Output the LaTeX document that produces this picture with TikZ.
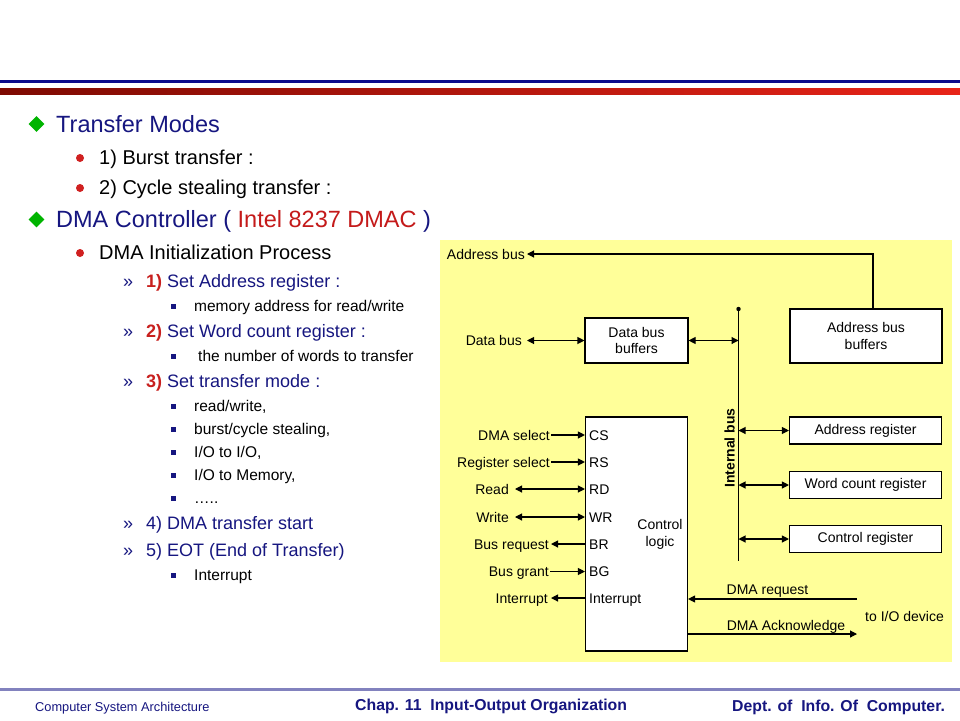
\documentclass[tikz,border=0pt]{standalone}
\usepackage{fontspec}
\setmainfont{Liberation Sans}
\usetikzlibrary{arrows.meta,shapes.geometric}
\definecolor{navy}{HTML}{161680}
\definecolor{bred}{HTML}{C8201E}
\definecolor{ired}{HTML}{C41A1A}
\definecolor{dgreen}{HTML}{00B400}
\definecolor{dotred}{HTML}{D02020}
\definecolor{panel}{HTML}{FFFF99}
\definecolor{topblue}{HTML}{0B0B8C}
\definecolor{darkred}{HTML}{7E0A02}
\definecolor{brightred}{HTML}{E82418}
\definecolor{footline}{HTML}{8282BE}
\newcommand\szA{\fontsize{23.5}{28}\selectfont}
\newcommand\szB{\fontsize{20}{24}\selectfont}
\newcommand\szC{\fontsize{18}{21}\selectfont}
\newcommand\szE{\fontsize{15.5}{18}\selectfont}
\newcommand\szD{\fontsize{14}{16.5}\selectfont}
\newcommand\szF{\fontsize{12.8}{15}\selectfont}
\newcommand\szG{\fontsize{15.8}{18}\selectfont}
\begin{document}
\begin{tikzpicture}[x=1pt,y=-1pt,
  lvlA/.style={anchor=base west, inner sep=0pt, font=\szA, text=navy},
  lvlB/.style={anchor=base west, inner sep=0pt, font=\szB, text=black},
  lvlC/.style={anchor=base west, inner sep=0pt, font=\szC, text=navy},
  lvlD/.style={anchor=base west, inner sep=0pt, font=\szE, text=black},
  bulA/.style={diamond, fill=dgreen, minimum size=16pt, inner sep=0pt},
  bulB/.style={circle, fill=dotred, minimum size=8pt, inner sep=0pt},
  bulD/.style={rectangle, fill=navy, minimum size=5pt, inner sep=0pt},
  raq/.style={anchor=base west, inner sep=0pt, font=\szC, text=navy},
  sig/.style={line width=1.1pt, -{Triangle[length=7pt,width=7pt]}},
  bisig/.style={line width=1.1pt, {Triangle[length=7pt,width=7pt]}-{Triangle[length=7pt,width=7pt]}},
  wire/.style={line width=1.1pt},
  box/.style={draw=black, line width=1.1pt, fill=white, inner sep=0pt, align=center, font=\szD},
  lab/.style={inner sep=0pt, text height=10pt, text depth=0pt, font=\szD},
  foot/.style={anchor=base west, inner sep=0pt, text=navy}
]
\useasboundingbox (0,0) rectangle (960,720);
\fill[white] (0,0) rectangle (960,720);
% header bars
\fill[topblue] (0,80) rectangle (960,83);
\shade[left color=darkred, right color=brightred] (0,88) rectangle (960,94.5);
% footer line
\fill[footline] (0,688) rectangle (960,691);

% ---------- left text ----------
\node[bulA] (d1) at (36.5,124) {};
\node[lvlA] (t1) at (56,132) {Transfer Modes};
\node[bulB] (r1) at (80,158) {};
\node[lvlB] (t2) at (99,164) {1) Burst transfer :};
\node[bulB] (r2) at (80,188) {};
\node[lvlB] (t3) at (99,194) {2) Cycle stealing transfer :};
\node[bulA] (d2) at (36.5,219.5) {};
\node[lvlA] (t4) at (56,227.5) {DMA Controller ( {\color{ired}Intel 8237 DMAC} )};
\node[bulB] (r3) at (80,253) {};
\node[lvlB] (t5) at (99,259) {DMA Initialization Process};

\node[raq] (q1) at (123,287) {»};
\node[lvlC] (t6) at (146,287) {\textcolor{bred}{\bfseries 1)} Set Address register :};
\node[bulD] (s1) at (173.5,306.5) {};
\node[lvlD] (t7) at (194,311) {memory address for read/write};
\node[raq] (q2) at (123,337) {»};
\node[lvlC] (t8) at (146,337) {\textcolor{bred}{\bfseries 2)} Set Word count register :};
\node[bulD] (s2) at (173.5,356.5) {};
\node[lvlD] (t9) at (198,361) {the number of words to transfer};
\node[raq] (q3) at (123,387) {»};
\node[lvlC] (t10) at (146,387) {\textcolor{bred}{\bfseries 3)} Set transfer mode :};
\node[bulD] (s3) at (173.5,406.5) {};
\node[lvlD] (t11) at (194,411) {read/write,};
\node[bulD] (s4) at (173.5,429.5) {};
\node[lvlD] (t12) at (194,434) {burst/cycle stealing,};
\node[bulD] (s5) at (173.5,452.5) {};
\node[lvlD] (t13) at (194,457) {I/O to I/O,};
\node[bulD] (s6) at (173.5,475.5) {};
\node[lvlD] (t14) at (194,480) {I/O to Memory,};
\node[bulD] (s7) at (173.5,498.5) {};
\node[lvlD] (t15) at (194,503) {…..};
\node[raq] (q4) at (123,529) {»};
\node[lvlC] (t16) at (146,529) {4) DMA transfer start};
\node[raq] (q5) at (123,556) {»};
\node[lvlC] (t17) at (146,556) {5) EOT (End of Transfer)};
\node[bulD] (s8) at (173.5,575.5) {};
\node[lvlD] (t18) at (194,580) {Interrupt};

% ---------- diagram ----------
\fill[panel] (440,240) rectangle (952,662);

\node[box, minimum width=103pt, minimum height=45pt] (dbb) at (636.5,340.5) {Data bus\\buffers};
\node[box, minimum width=152pt, minimum height=54pt] (abb) at (866,336) {Address bus\\buffers};
\node[box, minimum width=152pt, minimum height=27pt] (areg) at (865.5,430.5) {Address register};
\node[box, minimum width=152pt, minimum height=27pt] (wreg) at (865.5,485) {Word count register};
\node[box, minimum width=152pt, minimum height=27pt] (creg) at (865.5,539) {Control register};
\node[box, minimum width=102pt, minimum height=234pt] (ctl) at (636.5,534) {};
\node[lab, text height=, text depth=, align=center, font=\fontsize{14}{17}\selectfont] (ctltxt) at (660,534.5) {Control\\logic};

% internal bus
\coordinate (ibtop) at (738.5,309);
\coordinate (ibbot) at (738.5,561);
\draw[wire] (ibtop) -- (ibbot);
\fill (ibtop) circle (2.2pt);
\node[lab, font=\bfseries\szD, rotate=90] (ibl) at (729.5,448) {Internal bus};

% address bus
\node[lab, anchor=east] (abl) at (525,254) {Address bus};
\draw[sig] ([xshift=7pt]abb.north) |- ([xshift=2pt]abl.east);
% data bus
\node[lab, anchor=east] (dbl) at (522,340.5) {Data bus};
\draw[bisig] ([xshift=5pt]dbl.east) -- (dbb.west);
\draw[bisig] (dbb.east) -- (dbb.east -| ibtop);
% registers
\draw[bisig] (areg.west -| ibtop) -- (areg.west);
\draw[bisig] (wreg.west -| ibtop) -- (wreg.west);
\draw[bisig] (creg.west -| ibtop) -- (creg.west);

% control pins
\node[lab, anchor=west] (pcs) at (589,435) {CS};
\node[lab, anchor=west] (prs) at (589,462) {RS};
\node[lab, anchor=west] (prd) at (589,489) {RD};
\node[lab, anchor=west] (pwr) at (589,517) {WR};
\node[lab, anchor=west] (pbr) at (589,544) {BR};
\node[lab, anchor=west] (pbg) at (589,571.5) {BG};
\node[lab, anchor=west] (pint) at (589,598) {Interrupt};

% left signals
\node[lab, anchor=east] (ldsel) at (550,435) {DMA select};
\draw[sig] ([xshift=1pt]ldsel.east) -- (ldsel.east -| ctl.west);
\node[lab, anchor=east] (lrsel) at (550,462) {Register select};
\draw[sig] ([xshift=1pt]lrsel.east) -- (lrsel.east -| ctl.west);
\node[lab, anchor=east] (lrd) at (509,489) {Read};
\draw[bisig] ([xshift=6pt]lrd.east) -- (lrd.east -| ctl.west);
\node[lab, anchor=east] (lwr) at (509,517) {Write};
\draw[bisig] ([xshift=6pt]lwr.east) -- (lwr.east -| ctl.west);
\node[lab, anchor=east] (lbr) at (549,544) {Bus request};
\draw[sig] (lbr.east -| ctl.west) -- ([xshift=2pt]lbr.east);
\node[lab, anchor=east] (lbg) at (549,571.5) {Bus grant};
\draw[sig] ([xshift=1pt]lbg.east) -- (lbg.east -| ctl.west);
\node[lab, anchor=east] (lint) at (548,598) {Interrupt};
\draw[sig] (lint.east -| ctl.west) -- ([xshift=3pt]lint.east);

% I/O device side
\coordinate (dreq) at (857,599);
\draw[sig] (dreq) -- (dreq -| ctl.east);
\node[lab] (ldreq) at (767.5,589) {DMA request};
\coordinate (dack) at (857,634);
\draw[sig] (dack -| ctl.east) -- (dack);
\node[lab] (ldack) at (786,625) {DMA Acknowledge};
\node[lab] (lio) at (904.5,616) {to I/O device};

% ---------- footer ----------
\node[foot, font=\szF] (f1) at (35,711.5) {Computer System Architecture};
\node[foot, font=\bfseries\szG] (f2) at (355,710.5) {Chap. 11~~Input-Output Organization};
\node[foot, font=\bfseries\szG] (f3) at (732,711) {Dept. of~~Info. Of~~Computer.};
\end{tikzpicture}
\end{document}
